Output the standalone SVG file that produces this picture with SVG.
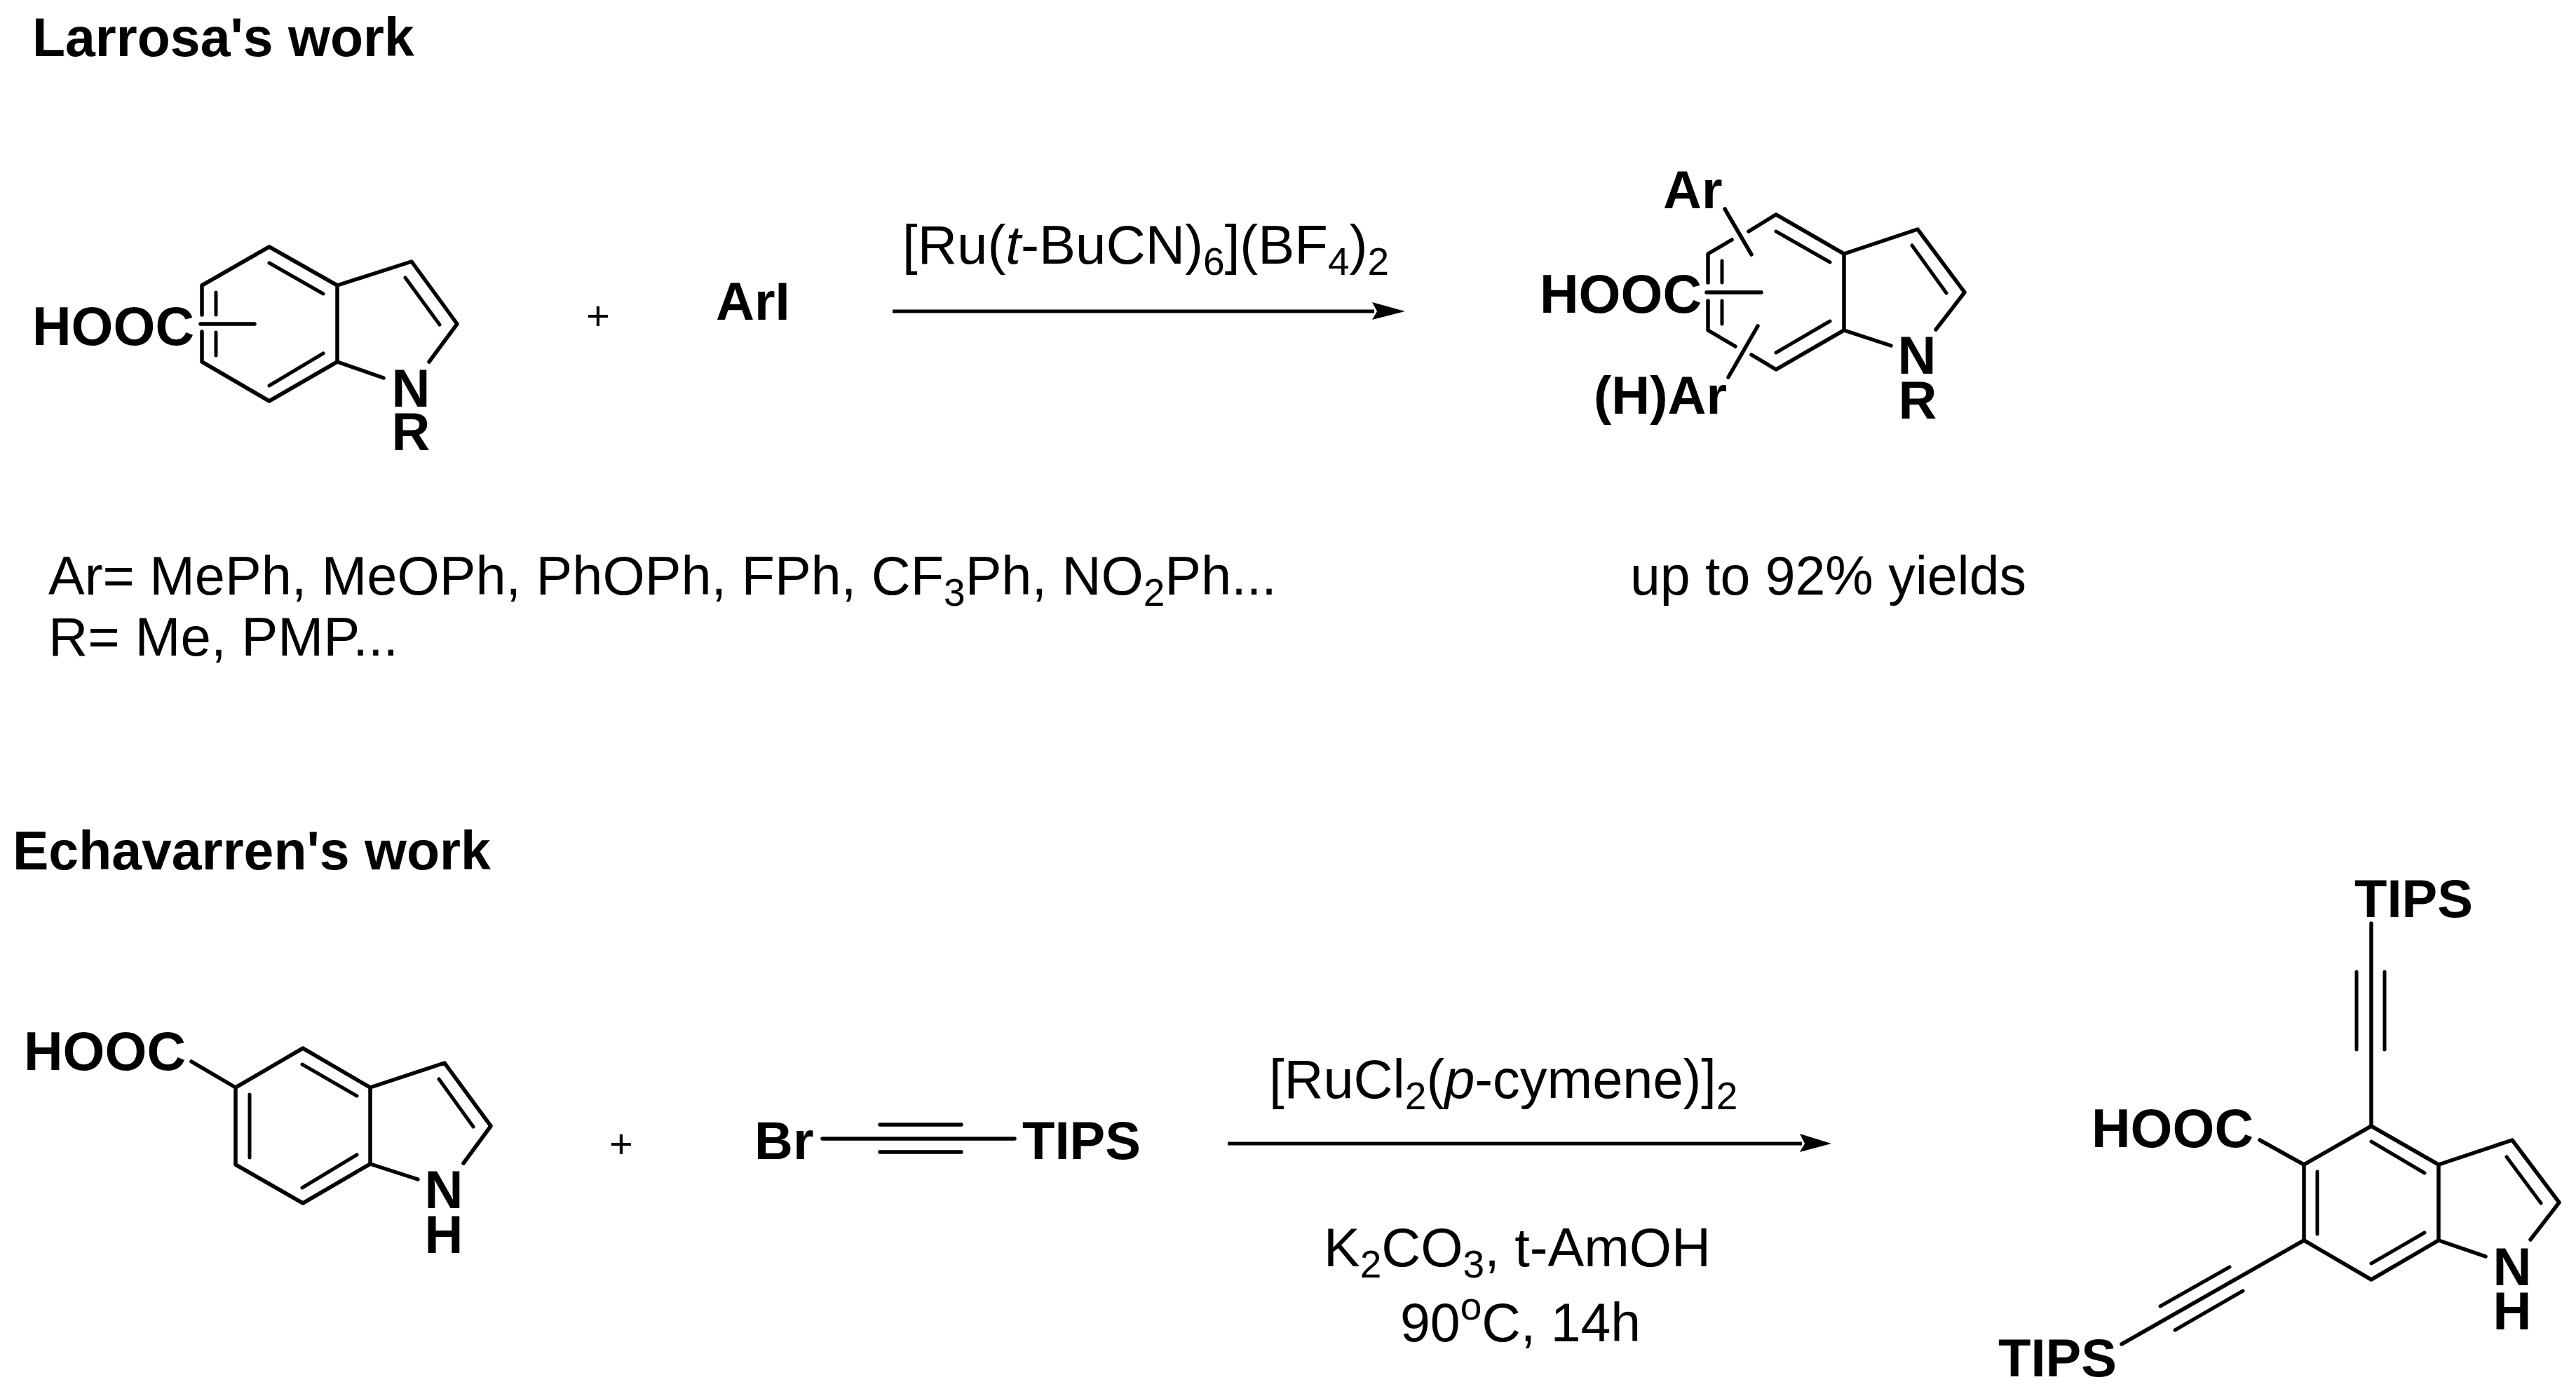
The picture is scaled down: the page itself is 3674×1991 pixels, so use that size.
<svg xmlns="http://www.w3.org/2000/svg" width="3674" height="1991" viewBox="0 0 3674 1991">
<style>
text{font-family:"Liberation Sans",Arial,sans-serif;fill:#000}
.b{font-weight:bold;font-size:76px}
.c{font-weight:bold;font-size:77px}
.h{font-weight:bold;font-size:77px}
.t{font-size:77px}
.r{font-size:77.5px}
.q{font-size:78px}
.s{font-size:55px}
.p{font-size:58px;text-anchor:middle}
.m{text-anchor:middle}
path{fill:none;stroke:#000;stroke-width:5.5px;stroke-linecap:round;stroke-linejoin:round}
.i{stroke-width:5px}
.a{stroke-width:5px;stroke-linecap:butt}
polygon{fill:#000}
</style>
<rect width="3674" height="1991" fill="#fff"/>
<text class="h" x="46" y="80">Larrosa's work</text>
<text class="h" x="18" y="1240">Echavarren's work</text>
<g id="indole-acid-1">
<path d="M288 449V407L384 352L481 407V516L384 572L288 516V473"/>
<path d="M481 407L587 373L652 462L612 516M481 516L547 539"/>
<path class="i" d="M384 375L461 419M308 417V449M308 474V507M384 550L461 504M578 396L627 463"/>
<path d="M286 462H363"/>
<text class="c" x="46" y="492">HOOC</text>
<text class="b m" x="586" y="580">N</text>
<text class="b m" x="586" y="642">R</text>
</g>
<text x="853" y="470" class="p">+</text>
<text id="ari" class="b" x="1021" y="456">ArI</text>
<g id="reaction-1-label">
<text class="q" x="1287" y="376">[Ru(<tspan font-style="italic">t</tspan>-BuCN)<tspan class="s" dy="16">6</tspan><tspan dy="-16">](BF</tspan><tspan class="s" dy="16">4</tspan><tspan dy="-16">)</tspan><tspan class="s" dy="16">2</tspan></text>
</g>
<g id="indole-product-1">
<path d="M2436 403V362L2470 342M2494 330L2533 306L2630 362V471L2533 527L2498 506M2475 494L2436 471V429"/>
<path d="M2630 362L2735 327L2802 417L2761 470M2630 471L2697 493"/>
<path class="i" d="M2533 330L2610 374M2456 372V403M2456 429V462M2533 503L2610 458M2727 350L2776 418"/>
<path d="M2434 417H2512M2460 298L2498 363M2507 465L2465 538"/>
<text class="b" x="2372" y="297">Ar</text>
<text class="c" x="2196" y="446">HOOC</text>
<text class="b" x="2273" y="590">(H)Ar</text>
<text class="b m" x="2734" y="533">N</text>
<text class="b m" x="2735" y="597">R</text>
</g>
<g id="notes">
<text class="r" x="69" y="848">Ar= MePh, MeOPh, PhOPh, FPh, CF<tspan class="s" dy="16">3</tspan><tspan dy="-16">Ph, NO</tspan><tspan class="s" dy="16">2</tspan><tspan dy="-16">Ph...</tspan></text>
<text class="q" x="69" y="935">R= Me, PMP...</text>
<text class="t" x="2325" y="848">up to 92% yields</text>
</g>
<g id="indole-acid-2">
<path d="M336 1551V1661L432 1716L528 1660V1551L432 1495L336 1551L273 1514"/>
<path d="M528 1551L634 1516L700 1606L661 1659M528 1660L596 1682"/>
<path class="i" d="M431 1518L509 1563M356 1561V1651M431 1694L509 1647M626 1539L675 1607"/>
<text class="c" x="34" y="1526">HOOC</text>
<text class="b m" x="633" y="1723">N</text>
<text class="b m" x="633" y="1787">H</text>
</g>
<text x="886" y="1651" class="p">+</text>
<g id="alkyne">
<text class="b" x="1076" y="1653">Br</text>
<path d="M1173 1624H1447M1255 1604H1371M1255 1643H1371"/>
<text class="b" x="1458" y="1653">TIPS</text>
</g>
<g id="reaction-2-label">
<text class="r" x="1810" y="1566">[RuCl<tspan class="s" dy="16">2</tspan><tspan dy="-16">(</tspan><tspan font-style="italic">p</tspan>-cymene)]<tspan class="s" dy="16">2</tspan></text>
<text class="r" x="1888" y="1806">K<tspan class="s" dy="16">2</tspan><tspan dy="-16">CO</tspan><tspan class="s" dy="16">3</tspan><tspan dy="-16">, t-AmOH</tspan></text>
<text class="t" x="1997" y="1913">90<tspan class="s" dy="-31">o</tspan><tspan dy="31">C, 14h</tspan></text>
</g>
<g id="connectors">
<path class="a" d="M1273 444H1960"/>
<polygon points="1957,431 2004,444 1957,456 1964,444"/>
<path class="a" d="M1751 1631H2570"/>
<polygon points="2567,1617 2612,1631 2567,1643 2574,1631"/>
</g>
<g id="indole-product-2">
<path d="M3382 1606L3478 1661V1769L3382 1825L3286 1769V1661L3382 1606L3382 1317"/>
<path d="M3478 1661L3583 1626L3650 1715L3609 1768M3478 1769L3545 1792M3286 1661L3223 1626M3286 1769L3026 1917"/>
<path class="i" d="M3382 1628L3458 1673M3305 1671V1760M3382 1802L3458 1758M3575 1650L3624 1716M3361 1386V1497M3401 1386V1497M3180 1807L3081 1863M3199 1841L3102 1897"/>
<text class="b" x="3358" y="1308">TIPS</text>
<text class="c" x="2983" y="1636">HOOC</text>
<text class="b m" x="3583" y="1833">N</text>
<text class="b m" x="3583" y="1896">H</text>
<text class="b" x="2850" y="1963">TIPS</text>
</g>
</svg>
